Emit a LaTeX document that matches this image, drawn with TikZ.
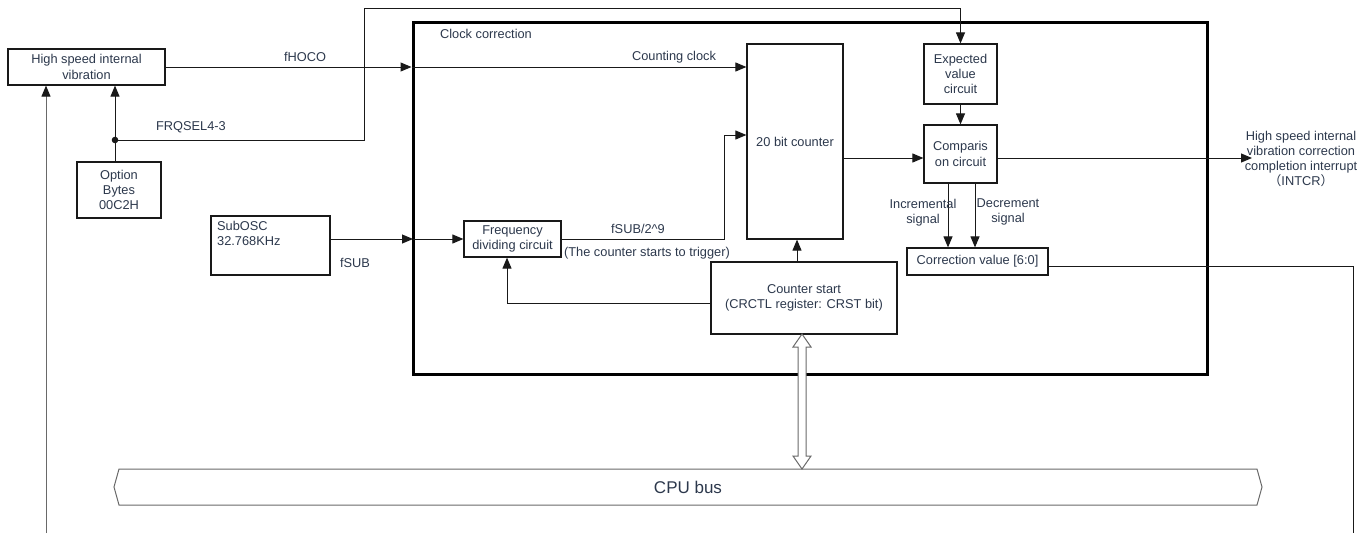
\documentclass[tikz,border=0pt]{standalone}
\usepackage{fontspec}
\setmainfont{Liberation Sans}
\newfontfamily\cjk{Noto Sans CJK SC}
\usetikzlibrary{arrows.meta}
\definecolor{ink}{RGB}{44,56,76}
\definecolor{wire}{RGB}{25,25,25}
\definecolor{rail}{RGB}{105,105,105}

\begin{document}
\begin{tikzpicture}[x=1pt,y=-1pt,
  every node/.style={text=ink,font=\fontsize{12.8}{15.2}\selectfont},
  blk/.style n args={2}{draw=wire,line width=1.2pt,fill=white,inner sep=0pt,
    align=center,minimum width=#1pt,minimum height=#2pt},
  lbl/.style={inner sep=0pt,align=center},
  wireline/.style={draw=wire,line width=1pt},
  conn/.style={wireline,-{Triangle[length=11pt,width=9pt,color=wire]}},
]
\useasboundingbox (0,0) rectangle (1372,533);

% clock correction frame
\node[draw=black,line width=3pt,inner sep=0pt,minimum width=794pt,minimum height=352pt] (cc) at (810,198) {};
\node[lbl] (cctitle) at (486,34) {Clock correction};

% blocks
\node[blk={157}{36}] (hsiv) at (86.5,67) {High speed internal\\vibration};
\node[blk={84}{56}] (opt) at (119,190) {Option\\Bytes\\00C2H};
\node[blk={119}{59}] (sub) at (270.5,245.5) {};
\node[lbl,anchor=north west,align=left] (subtxt) at (217,221) {SubOSC\\32.768KHz};
\node[blk={97}{36}] (freq) at (512.5,239) {Frequency\\dividing circuit};
\node[blk={96}{195}] (ctr) at (795,141.5) {20 bit counter};
\node[blk={73}{60}] (exp) at (960.5,74) {Expected\\value\\circuit};
\node[blk={73}{58}] (cmp) at (960.5,154) {Comparis\\on circuit};
\node[blk={141}{27}] (corr) at (977.5,261.5) {Correction value [6:0]};
\node[blk={186}{72}] (start) at (804,298) {Counter start\\(CRCTL register: CRST bit)};

% helper points for bends and free ends
\coordinate (hin) at (cc.west |- hsiv.east);
\coordinate (j) at (115,140);
\coordinate (bend) at (364,8);
\coordinate (lb) at (46,533);
\coordinate (sin) at (413,239);
\coordinate (fup) at (724,135);
\coordinate (cy) at (0,158);
\coordinate (intcr) at (1252,158);
\coordinate (incx) at (948,0);
\coordinate (decx) at (975,0);
\coordinate (rc) at (1353,266);
\coordinate (rb) at (1353,533);
\coordinate (sx) at (797,0);
\coordinate (ry) at (0,303);
\coordinate (rx) at (507,0);

% fHOCO path
\draw[conn] (hsiv.east) -- (hin);
\draw[conn] (hin) -- (ctr.west |- hin);
\node[lbl] (lhoco) at (305,57) {fHOCO};
\node[lbl] (lcount) at (674,57) {Counting clock};

% option bytes and FRQSEL route
\draw[conn] (opt.north -| j) -- (hsiv.south -| j);
\fill[wire] (j) circle (3.3pt);
\draw[conn] (j) -| (bend) -| (exp.north);
\node[lbl] (lfrq) at (191,127) {FRQSEL4-3};

% feedback into the oscillator
\draw[conn,draw=rail] (lb) -- (lb |- hsiv.south);

% sub clock path
\draw[conn] (sub.east |- sin) -- (sin);
\draw[conn] (sin) -- (freq.west);
\node[lbl] (lsub) at (355,263) {fSUB};
\draw[conn] (freq.east) -| (fup) -- (ctr.west |- fup);
\node[lbl] (ldiv) at (638,229) {fSUB/2\textasciicircum 9};
\node[lbl] (ltrig) at (647,253) {(The counter starts to trigger)};

% counter, comparison and correction
\draw[conn] (ctr.east |- cy) -- (cmp.west |- cy);
\draw[conn] (exp.south) -- (cmp.north);
\draw[conn] (cmp.east |- intcr) -- (intcr);
\node[lbl] (lint) at (1301,159) {High speed internal\\vibration correction\\completion interrupt\\{\cjk （}INTCR{\cjk ）}};
\draw[conn] (cmp.south -| incx) -- (corr.north -| incx);
\draw[conn] (cmp.south -| decx) -- (corr.north -| decx);
\node[lbl] (linc) at (923,213) {Incremental\\signal};
\node[lbl] (ldec) at (1008,212) {Decrement\\signal};
\draw[wireline] (corr.east |- rc) -- (rc) -- (rb);

% counter start
\draw[conn] (start.north -| sx) -- (ctr.south -| sx);
\draw[conn] (start.west |- ry) -| (freq.south -| rx);

% CPU bus
\draw[draw=rail,line width=1pt,fill=white] (114,487) -- (119,469) -- (1257,469) -- (1262,487) -- (1257,505) -- (119,505) -- cycle;
\node[lbl,font=\fontsize{17}{20}\selectfont] (bus) at (688,487) {CPU bus};

% bus access arrow
\coordinate (dtop) at (802,334);
\coordinate (dbot) at (802,469);
\draw[draw=rail,line width=1pt,fill=white,line join=miter]
  (dtop) -- ([shift={(9,13)}]dtop) -- ([shift={(4,13)}]dtop)
  -- ([shift={(4,-13)}]dbot) -- ([shift={(9,-13)}]dbot) -- (dbot)
  -- ([shift={(-9,-13)}]dbot) -- ([shift={(-4,-13)}]dbot)
  -- ([shift={(-4,13)}]dtop) -- ([shift={(-9,13)}]dtop) -- cycle;
\end{tikzpicture}
\end{document}
